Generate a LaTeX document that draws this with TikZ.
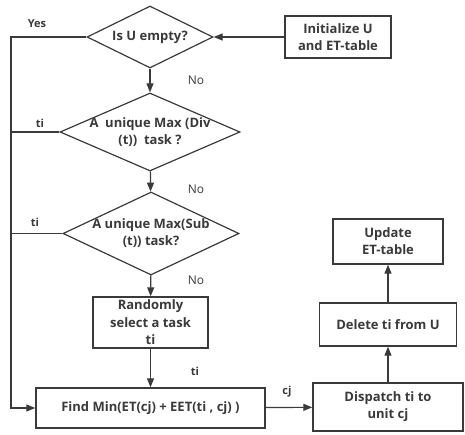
\documentclass[tikz,border=0pt]{standalone}
\usepackage{fontspec}
\setmainfont{Open Sans}
\usetikzlibrary{shapes.geometric,arrows.meta,positioning}
\definecolor{linegray}{HTML}{3A3A3A}
\tikzset{
	procbox/.style={rectangle,draw=linegray,line width=1.4pt,fill=white,text=linegray,font=\fontsize{13}{17}\selectfont\bfseries,align=center,inner sep=1pt},
	decision/.style={diamond,draw=linegray,line width=1.2pt,inner sep=0pt},
	dectext/.style={text=linegray,font=\fontsize{13}{17}\selectfont\bfseries,align=center},
	flow/.style={-{Triangle[length=9pt,width=7pt]},draw=linegray,line width=1.2pt},
	plain/.style={draw=linegray,line width=1.2pt},
	yeslabel/.style={text=linegray,font=\fontsize{11}{13}\selectfont\bfseries},
	nolabel/.style={text=linegray,font=\fontsize{12}{14}\selectfont}
}
\begin{document}
\begin{tikzpicture}[x=1pt,y=-1pt]
		\useasboundingbox (0,0) rectangle (465,435);
		
		\node [decision,minimum width=126pt,minimum height=62pt,label={[dectext]center:Is U empty?}] (empty) at (150,37) {};
		\node [procbox,minimum width=106pt,minimum height=42pt] (init) at (338,37) {Initialize U\\and ET-table};
		\node [decision,minimum width=180pt,minimum height=78pt,label={[dectext]center:A\ \ unique Max (Div\\(t))\ \ task ?}] (div) at (150,132) {};
		\node [decision,minimum width=176pt,minimum height=83pt,label={[dectext]center:A unique Max(Sub\\(t)) task?}] (sub) at (151,233.5) {};
		\node [procbox,minimum width=115pt,minimum height=51pt,font=\fontsize{13}{17.5}\selectfont\bfseries] (rand) at (150.5,322.5) {Randomly\\select a task\\ti};
		\node [procbox,minimum width=229pt,minimum height=40pt] (find) at (150.5,408) {Find Min(ET(cj) + EET(ti , cj) )};
		\node [procbox,minimum width=150pt,minimum height=48pt] (disp) at (388,407) {Dispatch ti to\\unit cj};
		\node [procbox,minimum width=137pt,minimum height=43pt] (del) at (388,324.5) {Delete ti from U};
		\node [procbox,minimum width=110pt,minimum height=45pt] (upd) at (388,241.5) {Update\\ET-table};
		\coordinate (left) at (11,37);
		
		\draw [flow] (init) -- (empty);
		\draw [flow] (empty) -- (div);
		\draw [flow] (div) -- (sub);
		\draw [flow] (sub) -- (rand);
		\draw [flow] (rand) -- (find);
		\draw [flow] (empty.west) -- (left) |- (find.west);
		\draw [plain] (div.west) -- (div.west -| left);
		\draw [plain] (sub.west) -- (sub.west -| left);
		\draw [flow] (find) -- (disp);
		\draw [flow] (disp) -- (del);
		\draw [flow] (del) -- (upd);
		
		\node [yeslabel] (yes) at (37,24) {Yes};
		\node [yeslabel] (ti1) at (40,123) {ti};
		\node [yeslabel] (ti2) at (35,222) {ti};
		\node [yeslabel] (ti3) at (195,371) {ti};
		\node [yeslabel] (cj) at (287,392) {cj};
		\node [nolabel] (no1) at (196,80) {No};
		\node [nolabel] (no2) at (196,189) {No};
		\node [nolabel] (no3) at (196,280) {No};
		
	\end{tikzpicture}
\end{document}
